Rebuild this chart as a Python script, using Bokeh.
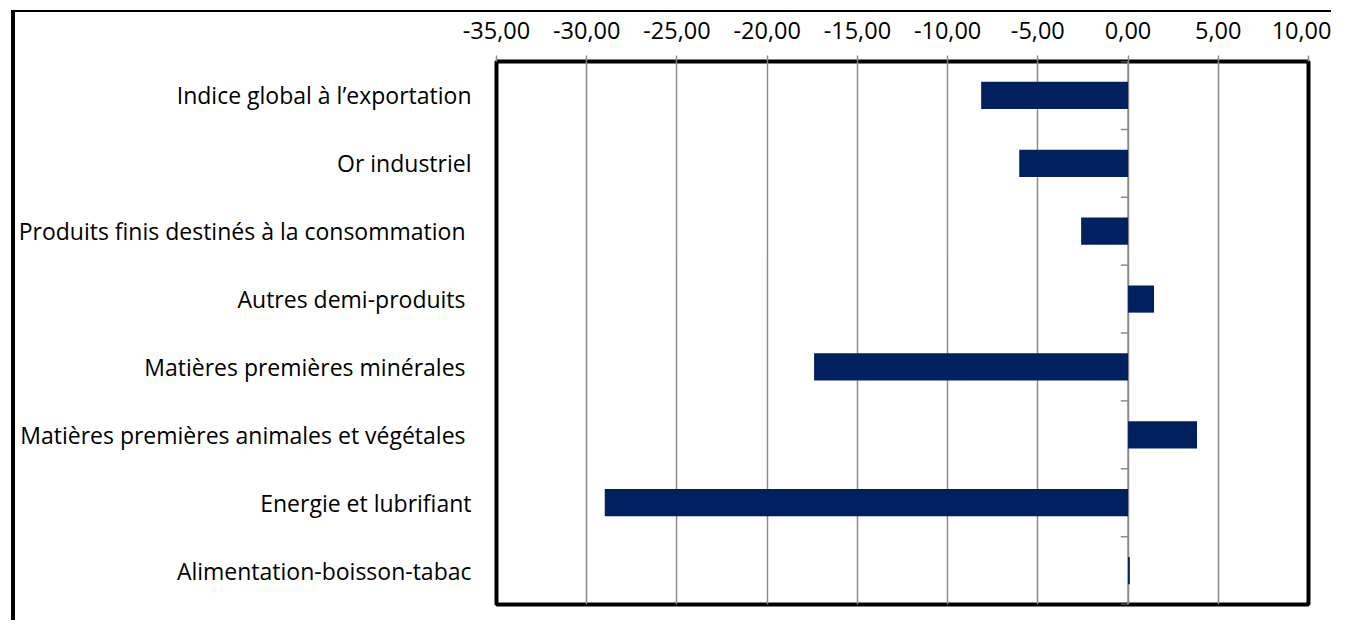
from bokeh.plotting import figure
from bokeh.models import Range1d, FixedTicker
from bokeh.embed import file_html
from bokeh.resources import INLINE

categories = [
    "Indice global à l’exportation",
    "Or industriel",
    "Produits finis destinés à la consommation ",
    "Autres demi-produits ",
    "Matières premières minérales ",
    "Matières premières animales et végétales ",
    "Energie et lubrifiant",
    "Alimentation-boisson-tabac",
]
values = [-8.14, -6.03, -2.6, 1.44, -17.4, 3.82, -29.0, 0.1]
x_ticks = [-35, -30, -25, -20, -15, -10, -5, 0, 5, 10]
x_tick_labels = ["-35,00", "-30,00", "-25,00", "-20,00", "-15,00", "-10,00",
                 "-5,00", "0,00", "5,00", "10,00"]

n = len(categories)
y_centers = [n - i - 0.5 for i in range(n)]
boundaries = list(range(n + 1))

FONT = "Open Sans"
GRAY = "#8c8c8c"

p = figure(width=1320, height=610, output_backend="svg", toolbar_location=None,
           x_range=Range1d(-35, 10), y_range=Range1d(0, n),
           x_axis_location="above", min_border_left=460, min_border_top=49,
           min_border_right=27, min_border_bottom=18)
p.styles = {"border-top": "2px solid black", "border-left": "4px solid black"}
p.margin = (10, 0, 0, 11)

p.outline_line_color = "black"
p.outline_line_width = 4
p.background_fill_color = "white"
p.border_fill_color = "white"

# grid
p.ygrid.visible = False
p.xgrid.ticker = FixedTicker(ticks=x_ticks)
p.xgrid.grid_line_color = GRAY
p.xgrid.grid_line_width = 1.5

# top axis
xa = p.xaxis[0]
xa.ticker = FixedTicker(ticks=x_ticks)
xa.major_label_overrides = {t: l for t, l in zip(x_ticks, x_tick_labels)}
xa.axis_line_color = None
xa.major_tick_line_color = GRAY
xa.major_tick_line_width = 1.5
xa.major_tick_out = 6
xa.major_tick_in = 0
xa.minor_tick_line_color = None
xa.major_label_text_font = FONT
xa.major_label_text_font_size = "23.5px"
xa.major_label_text_color = "black"
xa.major_label_standoff = 17

# left axis with category names
ya = p.yaxis[0]
ya.ticker = FixedTicker(ticks=y_centers)
ya.major_label_overrides = {c: name for c, name in zip(y_centers, categories)}
ya.axis_line_color = None
ya.major_tick_line_color = None
ya.minor_tick_line_color = None
ya.major_tick_out = 0
ya.major_tick_in = 0
ya.major_label_text_font = FONT
ya.major_label_text_font_size = "23px"
ya.major_label_text_color = "black"
ya.major_label_standoff = 25

# category axis at zero with boundary ticks
tick_len = 0.4
p.segment(x0=[0], y0=[0], x1=[0], y1=[n], line_color=GRAY, line_width=1.5)
p.segment(x0=[-tick_len] * len(boundaries), y0=boundaries,
          x1=[0] * len(boundaries), y1=boundaries,
          line_color=GRAY, line_width=1.5)

p.hbar(y=y_centers, left=0, right=values, height=0.4,
       fill_color="#002060", line_color=None)

open("out.html", "w").write(file_html(p, INLINE))
